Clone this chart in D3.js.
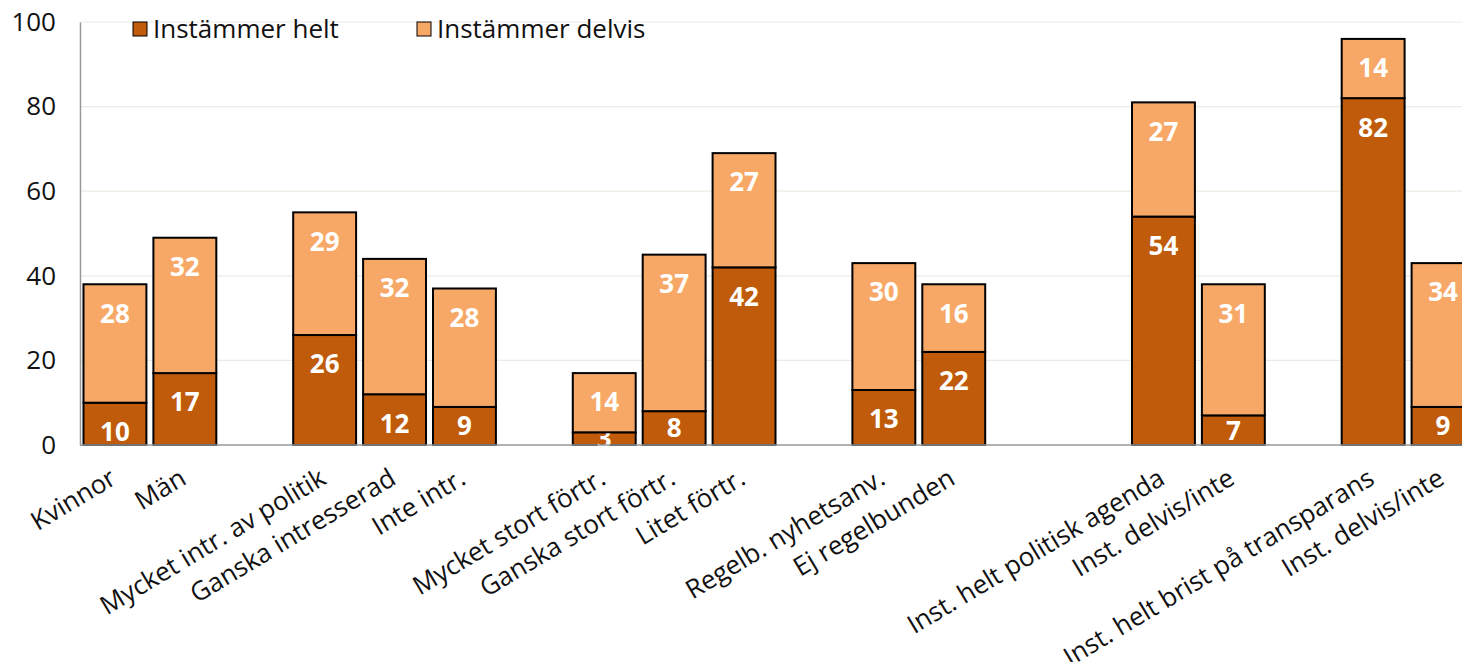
<!DOCTYPE html>
<html>
<head>
<meta charset="utf-8">
<script src="https://d3js.org/d3.v7.min.js"></script>
<style>
body { margin: 0; background: white; font-family: "Open Sans", sans-serif; }
</style>
</head>
<body>
<script>
// categories, "" = empty slot between groups
var categories = ["Kvinnor", "Män", "", "Mycket intr. av politik", "Ganska intresserad", "Inte intr.", "",
  "Mycket stort förtr.", "Ganska stort förtr.", "Litet förtr.", "", "Regelb. nyhetsanv.", "Ej regelbunden", "", "",
  "Inst. helt politisk agenda", "Inst. delvis/inte", "", "Inst. helt brist på transparans", "Inst. delvis/inte"];
var helt   = [10, 17, null, 26, 12, 9, null, 3, 8, 42, null, 13, 22, null, null, 54, 7, null, 82, 9];
var delvis = [28, 32, null, 29, 32, 28, null, 14, 37, 27, null, 30, 16, null, null, 27, 31, null, 14, 34];
var seriesNames = ["Instämmer helt", "Instämmer delvis"];
var colors = ["#bf5b0a", "#f7a866"];
var yTicks = [0, 20, 40, 60, 80, 100];

var width = 1462, height = 662;
var svg = d3.select("body").append("svg").attr("width", width).attr("height", height);

var x = d3.scaleBand()
  .domain(d3.range(categories.length))
  .range([80, 80 + categories.length * 69.9])
  .paddingInner(0.1).paddingOuter(0.05);
var y = d3.scaleLinear().domain([0, 100]).range([445, 22]);

// gridlines
svg.append("g").selectAll("line").data(yTicks.slice(1)).enter().append("line")
  .attr("x1", 80).attr("x2", width)
  .attr("y1", function(d) { return y(d); }).attr("y2", function(d) { return y(d); })
  .attr("stroke", "#ebebe3").attr("stroke-width", 1.2);

// y axis
var yAxis = svg.append("g").attr("transform", "translate(80,0)")
  .call(d3.axisLeft(y).tickValues(yTicks).tickSize(0).tickPadding(24));
yAxis.select(".domain").attr("stroke", "#999").attr("stroke-width", 1.5);
yAxis.selectAll("text").attr("font-size", 26).attr("font-family", "Open Sans").attr("fill", "#111");

// stacked data
var rows = categories.map(function(c, i) { return {i: i, c: c, helt: helt[i], delvis: delvis[i]}; })
  .filter(function(d) { return d.helt !== null; });
var stack = d3.stack().keys(["helt", "delvis"])(rows);

var layers = svg.append("g").selectAll("g").data(stack).enter().append("g")
  .attr("fill", function(d, k) { return colors[k]; });

layers.selectAll("rect").data(function(d) { return d; }).enter().append("rect")
  .attr("x", function(d) { return x(d.data.i); })
  .attr("width", x.bandwidth())
  .attr("y", function(d) { return y(d[1]); })
  .attr("height", function(d) { return y(d[0]) - y(d[1]); })
  .attr("stroke", "#000").attr("stroke-width", 2);

// baseline
svg.append("line").attr("x1", 80).attr("x2", width).attr("y1", y(0)).attr("y2", y(0))
  .attr("stroke", "#999").attr("stroke-width", 1.5);

// value labels
layers.selectAll("text").data(function(d) { return d; }).enter().append("text")
  .attr("x", function(d) { return x(d.data.i) + x.bandwidth() / 2; })
  .attr("y", function(d) {
    var top = y(d[1]), h = y(d[0]) - y(d[1]);
    return h >= 40 ? top + 29 : top + h / 2;
  })
  .attr("dy", "0.36em")
  .attr("text-anchor", "middle")
  .attr("fill", "#fff").attr("font-weight", "bold").attr("font-size", 26)
  .text(function(d) { return d[1] - d[0]; });

// x labels
svg.append("g").selectAll("text").data(rows).enter().append("text")
  .attr("transform", function(d) {
    return "translate(" + (x(d.i) + x.bandwidth() / 2 + 3) + ",483) rotate(-31)";
  })
  .attr("text-anchor", "end")
  .attr("font-size", 26).attr("fill", "#111")
  .text(function(d) { return d.c; });

// legend
var leg = svg.append("g").selectAll("g").data(seriesNames).enter().append("g")
  .attr("transform", function(d, k) { return "translate(" + (133 + k * 284) + ",22)"; });
leg.append("rect").attr("width", 14).attr("height", 14)
  .attr("fill", function(d, k) { return colors[k]; })
  .attr("stroke", "#000").attr("stroke-width", 1);
leg.append("text").attr("x", 20).attr("y", 7).attr("dy", "0.36em")
  .attr("font-size", 26).attr("fill", "#111")
  .text(function(d) { return d; });
</script>
</body>
</html>
